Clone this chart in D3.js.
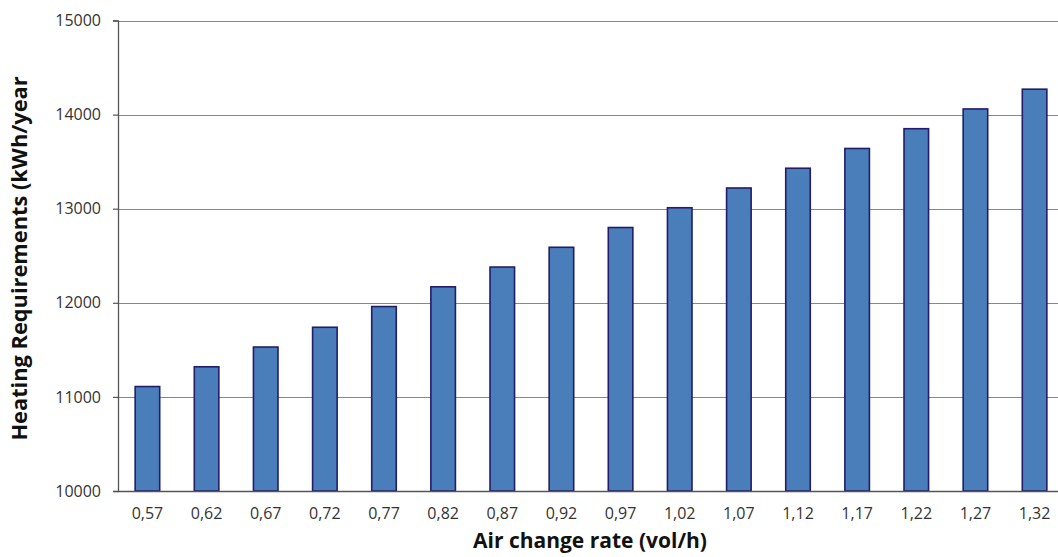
<!DOCTYPE html>
<html>
<head>
<meta charset="utf-8">
<script src="https://cdn.jsdelivr.net/npm/d3@7"></script>
<style>
  html, body { margin: 0; padding: 0; background: #fff; }
  svg { display: block; }
</style>
</head>
<body>
<svg id="chart" width="1058" height="557"></svg>
<script>
const categories = ["0,57","0,62","0,67","0,72","0,77","0,82","0,87","0,92","0,97","1,02","1,07","1,12","1,17","1,22","1,27","1,32"];
const heating = [11110, 11320, 11530, 11740, 11960, 12170, 12380, 12590, 12800, 13010, 13220, 13430, 13640, 13850, 14060, 14270];
const yTicks = [10000, 11000, 12000, 13000, 14000, 15000];
const xTitle = "Air change rate (vol/h)";
const yTitle = "Heating Requirements (kWh/year";

(function () {
const svg = d3.select("#chart");
const pLeft = 118, pRight = 1064, pTop = 20.5, pBottom = 491;

const x = d3.scaleBand().domain(categories).range([pLeft, pRight]).paddingInner(0.585).paddingOuter(0.29);
const y = d3.scaleLinear().domain([10000, 15000]).range([pBottom, pTop]);

// gridlines
svg.append("g")
  .selectAll("line")
  .data(yTicks.filter(d => d > 10000))
  .join("line")
  .attr("x1", pLeft).attr("x2", pRight)
  .attr("y1", d => Math.round(y(d)) + 0.5).attr("y2", d => Math.round(y(d)) + 0.5)
  .attr("stroke", "#888").attr("stroke-width", 1.2);

// bars
svg.append("g")
  .selectAll("rect")
  .data(heating)
  .join("rect")
  .attr("x", (d, i) => x(categories[i]))
  .attr("width", x.bandwidth())
  .attr("y", d => y(d))
  .attr("height", d => y(10000) - y(d))
  .attr("fill", "#4a7ebb")
  .attr("stroke", "#221c6b")
  .attr("stroke-width", 1.6);

// y axis
const yAxis = svg.append("g")
  .attr("transform", `translate(${pLeft},0)`)
  .call(d3.axisLeft(y).tickValues(yTicks).tickSize(5).tickPadding(12).tickFormat(d3.format("d")));
yAxis.select(".domain").attr("stroke", "#555").attr("stroke-width", 1.3);
yAxis.selectAll(".tick line").attr("stroke", "#555").attr("stroke-width", 1.2);
yAxis.selectAll("text")
  .attr("fill", "#333")
  .style("font-family", "'Open Sans', sans-serif")
  .style("font-size", "16px");

// x axis
const xAxis = svg.append("g")
  .attr("transform", `translate(0,${pBottom})`)
  .call(d3.axisBottom(x).tickSize(0).tickPadding(17).tickSizeOuter(0));
xAxis.select(".domain").attr("stroke", "#555").attr("stroke-width", 1.3);
xAxis.selectAll("text")
  .attr("fill", "#333")
  .style("font-family", "'Open Sans', sans-serif")
  .style("font-size", "16px");

// titles
svg.append("text")
  .attr("x", 590).attr("y", 548)
  .attr("text-anchor", "middle")
  .attr("fill", "#111")
  .style("font-family", "'Open Sans', sans-serif")
  .style("font-weight", "bold")
  .style("font-size", "21px")
  .text(xTitle);

svg.append("text")
  .attr("transform", "translate(27,258.5) rotate(-90)")
  .attr("text-anchor", "middle")
  .attr("fill", "#111")
  .style("font-family", "'Open Sans', sans-serif")
  .style("font-weight", "bold")
  .style("font-size", "21.8px")
  .text(yTitle);
})();
</script>
</body>
</html>
